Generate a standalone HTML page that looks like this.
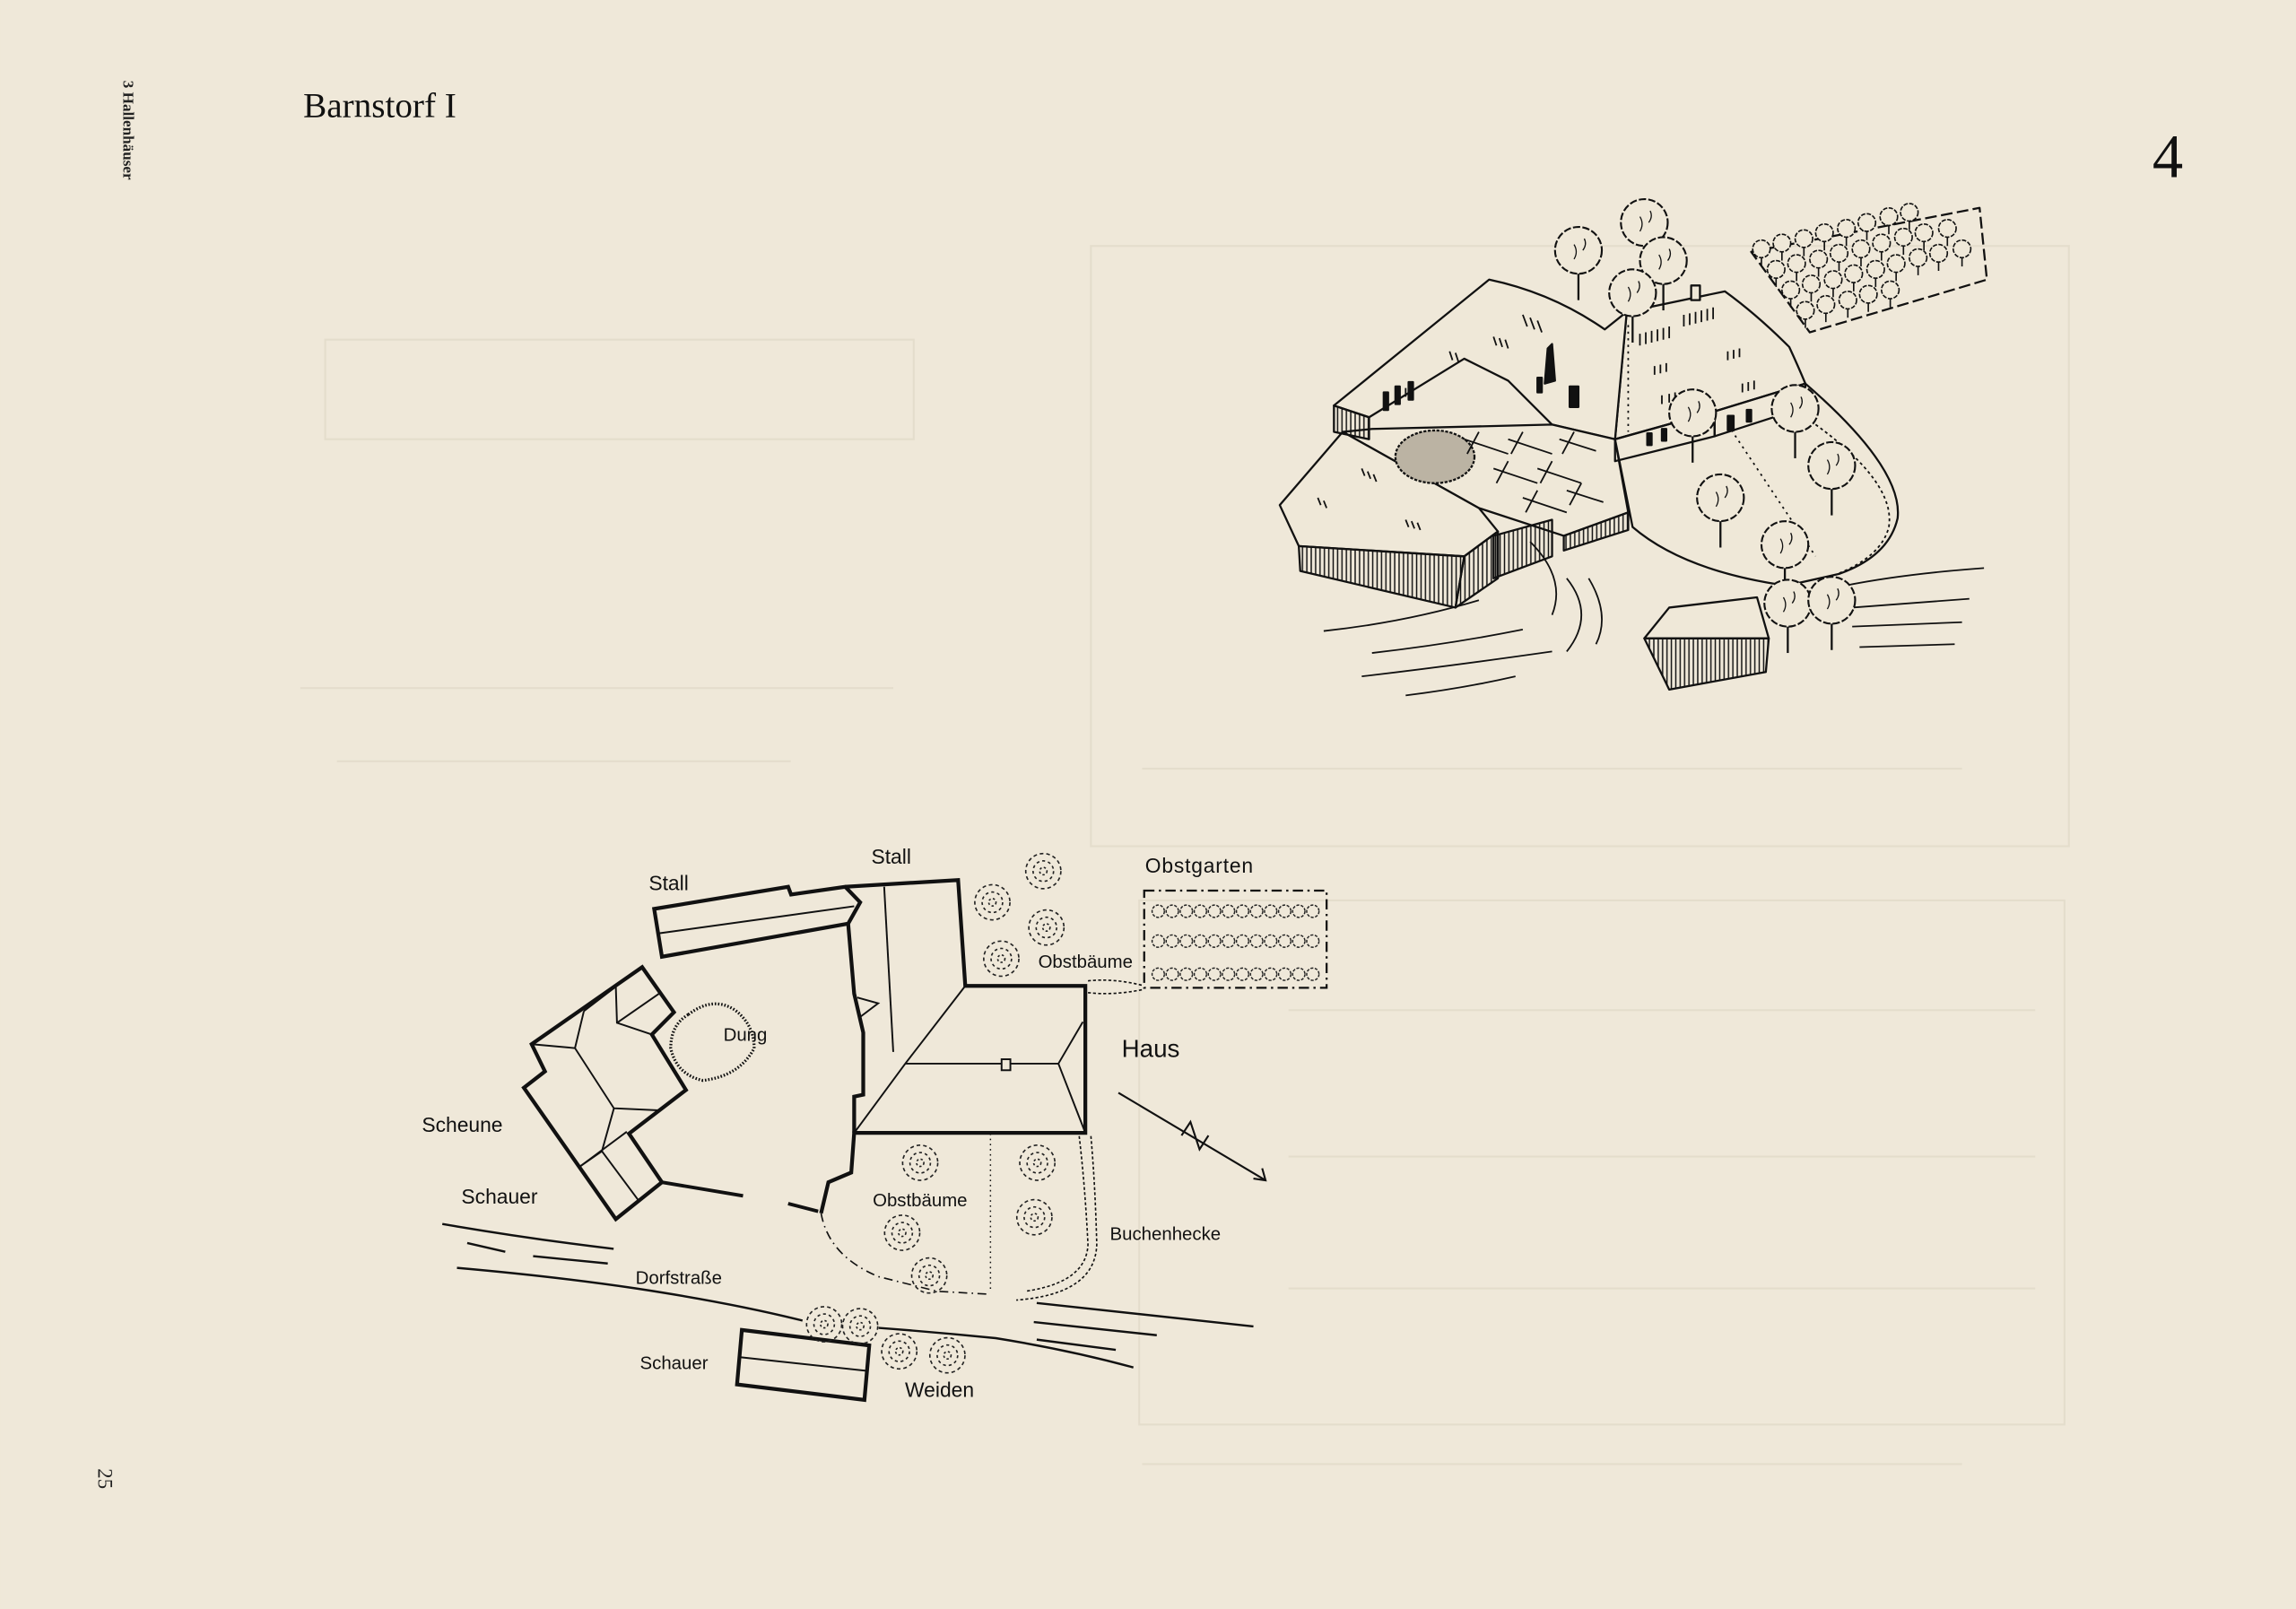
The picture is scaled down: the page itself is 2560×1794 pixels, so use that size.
<!DOCTYPE html>
<html><head><meta charset="utf-8"><style>
html,body{margin:0;padding:0;background:#efe8d8;}
svg{display:block}
</style></head><body>
<svg width="2560" height="1794" viewBox="0 0 1568 1099" xmlns="http://www.w3.org/2000/svg">
<defs>
<pattern id="h" width="3" height="10" patternUnits="userSpaceOnUse"><line x1="1.5" y1="0" x2="1.5" y2="10" stroke="#111" stroke-width="0.9"/></pattern>
<g id="t"><circle cx="0" cy="0" r="6" fill="#efe8d8" stroke="#111" stroke-width="1" stroke-dasharray="3 1"/><line x1="0" y1="6" x2="0" y2="12" stroke="#111" stroke-width="1"/></g>
<g id="T"><circle cx="0" cy="0" r="16" fill="#efe8d8" stroke="#111" stroke-width="1.3" stroke-dasharray="5 1.5"/><path d="M-3 -4 q3 5 0 10 M4 -8 q2 4 -1 8" stroke="#111" fill="none" stroke-width="0.8"/><line x1="0" y1="16" x2="0" y2="34" stroke="#111" stroke-width="1.4"/></g>
<g id="d"><circle cx="0" cy="0" r="12" fill="none" stroke="#222" stroke-width="1" stroke-dasharray="2.5 2"/><circle cx="0" cy="0" r="7" fill="none" stroke="#222" stroke-width="1" stroke-dasharray="2 2"/><circle cx="0" cy="0" r="2.5" fill="none" stroke="#222" stroke-width="1" stroke-dasharray="1.5 1.5"/></g>
<g id="o"><circle cx="0" cy="0" r="4.2" fill="none" stroke="#222" stroke-width="0.9" stroke-dasharray="2 1"/></g>
</defs>
<rect width="1568" height="1099" fill="#efe8d9"/>
<!-- faint show-through -->
<g stroke="#e4ddcc" stroke-width="1.3" fill="none">
<rect x="222" y="232" width="402" height="68"/>
<rect x="745" y="168" width="668" height="410"/>
<rect x="778" y="615" width="632" height="358"/>
<line x1="205" y1="470" x2="610" y2="470"/>
<line x1="880" y1="690" x2="1390" y2="690"/>
<line x1="880" y1="790" x2="1390" y2="790"/>
<line x1="880" y1="880" x2="1390" y2="880"/>
<line x1="230" y1="520" x2="540" y2="520"/>
<line x1="780" y1="525" x2="1340" y2="525"/>
<line x1="780" y1="1000" x2="1340" y2="1000"/>
</g>

<!-- header -->
<text x="207" y="80" font-family="Liberation Serif, serif" font-size="24" fill="#111">Barnstorf I</text>
<text x="1470" y="121" font-family="Liberation Serif, serif" font-size="42" fill="#111">4</text>
<text transform="translate(84,55) rotate(90)" font-family="Liberation Serif, serif" font-size="10.5" font-weight="bold" fill="#222">3 Hallenhäuser</text>
<text transform="translate(67,1003) rotate(90)" font-family="Liberation Serif, serif" font-size="14" fill="#222">25</text>

<!-- ===== PLAN ===== -->
<g stroke="#111" fill="none" stroke-linejoin="miter">
<polygon points="446.7,620.8 538.2,605.7 540.2,611 577.2,605.7 587.4,616.3 579.2,630.9 452,653.5" stroke-width="2.6"/>
<line x1="450" y1="637.5" x2="583.3" y2="619" stroke-width="1.2"/>
<polyline points="577.2,605.7 654.3,601.1 659.2,673.4 741.2,673.4 741.2,773.8 583.3,773.8 581.3,800.9 565.7,807.5 560.7,828.7" stroke-width="2.6"/>
<polyline points="579.2,630.9 583.3,678.7 589.5,705.3 589.5,747.7 583.3,749 583.3,773.8" stroke-width="2.6"/>
<polyline points="585.4,681.3 599.7,685.3 587.4,694.6" stroke-width="1.2"/>
<line x1="603.8" y1="605.7" x2="610" y2="718.5" stroke-width="1.2"/>
<line x1="618.2" y1="726.5" x2="722.8" y2="726.5" stroke-width="1.2"/>
<line x1="618.2" y1="726.5" x2="659.2" y2="673.4" stroke-width="1.2"/>
<line x1="618.2" y1="726.5" x2="583.3" y2="773.8" stroke-width="1.2"/>
<line x1="722.8" y1="726.5" x2="739.5" y2="698" stroke-width="1.2"/>
<line x1="722.8" y1="726.5" x2="741.2" y2="773.8" stroke-width="1.2"/>
<rect x="684" y="723.5" width="6" height="7.5" fill="#efe8d8" stroke-width="1.2"/>
<polygon points="438.5,660.6 460.2,691.4 445.1,706.6 468.4,744.5 429.5,774.3 452,807.5 420.5,832.7 357.7,743 372.1,731.8 363,713.2" stroke-width="2.6"/>
<polyline points="363,713.2 392.6,715.9 419.2,757 450,758.4" stroke-width="1.2"/>
<line x1="392.6" y1="715.9" x2="398.7" y2="690.6" stroke-width="1.2"/>
<line x1="398.7" y1="690.6" x2="420.5" y2="673.9" stroke-width="1.2"/>
<polyline points="420.5,673.9 421.3,698.6 445.1,706.6" stroke-width="1.2"/>
<line x1="421.3" y1="698.6" x2="450" y2="678.7" stroke-width="1.2"/>
<line x1="419.2" y1="757" x2="411" y2="786.3" stroke-width="1.2"/>
<line x1="411" y1="786.3" x2="395.8" y2="796.9" stroke-width="1.2"/>
<line x1="428" y1="773" x2="395.8" y2="796.9" stroke-width="1.2"/>
<line x1="411" y1="786.3" x2="435.6" y2="819.4" stroke-width="1.2"/>
<line x1="452" y1="807.5" x2="507.4" y2="816.8" stroke-width="2.4"/>
<line x1="538.2" y1="822.1" x2="558.7" y2="827.4" stroke-width="2.4"/>
<path d="M470 693 Q487 680 502 690 Q515 700 515 716 Q505 735 480 738 Q462 734 458 716 Q458 700 470 693 Z" stroke-width="2" stroke-dasharray="1 1.2"/>
<rect x="781.4" y="608.3" width="124.6" height="66.4" stroke-width="1.4" stroke-dasharray="7 3 1.5 3"/>
<path d="M743 670 Q760 668 780 673 M743 678 Q760 680 780 676" stroke-width="1" stroke-dasharray="2 1.5"/>
<path d="M737 776 Q741 810 743 850 Q742 876 700 882 M745 776 Q748 810 749 850 Q748 884 694 888" stroke-width="1" stroke-dasharray="2 1.5"/>
<line x1="676.4" y1="774.3" x2="676.4" y2="882" stroke-width="0.9" stroke-dasharray="1 2.5"/>
<path d="M560.7 828.7 Q566 858 600 872 L640 882 L676 884" stroke-width="1" stroke-dasharray="6 3 1 3"/>
<line x1="763.8" y1="746.4" x2="864.3" y2="806.2" stroke-width="1.3"/>
<polyline points="806.9,775.6 813,766.3 819.2,785 825.3,775.6" stroke-width="1.3"/>
<polyline points="856,805 864.3,806.2 862,798" stroke-width="1.3"/>
<path d="M302 836 Q360 846 419 853" stroke-width="1.5"/>
<path d="M319 849 L345 855 M364 858 L415 863" stroke-width="1.5"/>
<path d="M312 866 Q380 872 434 880 Q500 890 548 902" stroke-width="1.5"/>
<path d="M600 907 Q640 910 680 914 Q730 922 774 934" stroke-width="1.5"/>
<path d="M708 890 Q780 898 856 906" stroke-width="1.5"/>
<path d="M706 903 L790 912 M708 915 L762 922" stroke-width="1.5"/>
<polygon points="506.6,908.4 593.6,919 590.3,956.2 503.3,945.6" stroke-width="2.6"/>
<line x1="505.4" y1="927" x2="591.5" y2="936.3" stroke-width="1.2"/>
</g>
<use href="#d" x="712.5" y="595"/><use href="#d" x="677.7" y="616.3"/><use href="#d" x="714.6" y="633.5"/><use href="#d" x="683.8" y="654.8"/>
<use href="#d" x="628.4" y="794.2"/><use href="#d" x="708.4" y="794.2"/><use href="#d" x="616.1" y="842"/><use href="#d" x="706.4" y="831.4"/><use href="#d" x="634.6" y="871.2"/>
<use href="#d" x="562.8" y="904.5"/><use href="#d" x="587.4" y="905.8"/><use href="#d" x="614.1" y="923"/><use href="#d" x="647" y="925.7"/>
<g>
<use href="#o" x="791" y="622.4"/><use href="#o" x="800.6" y="622.4"/><use href="#o" x="810.2" y="622.4"/><use href="#o" x="819.8" y="622.4"/><use href="#o" x="829.4" y="622.4"/><use href="#o" x="839" y="622.4"/><use href="#o" x="848.6" y="622.4"/><use href="#o" x="858.2" y="622.4"/><use href="#o" x="867.8" y="622.4"/><use href="#o" x="877.4" y="622.4"/><use href="#o" x="887" y="622.4"/><use href="#o" x="896.6" y="622.4"/>
<use href="#o" x="791" y="642.8"/><use href="#o" x="800.6" y="642.8"/><use href="#o" x="810.2" y="642.8"/><use href="#o" x="819.8" y="642.8"/><use href="#o" x="829.4" y="642.8"/><use href="#o" x="839" y="642.8"/><use href="#o" x="848.6" y="642.8"/><use href="#o" x="858.2" y="642.8"/><use href="#o" x="867.8" y="642.8"/><use href="#o" x="877.4" y="642.8"/><use href="#o" x="887" y="642.8"/><use href="#o" x="896.6" y="642.8"/>
<use href="#o" x="791" y="665.4"/><use href="#o" x="800.6" y="665.4"/><use href="#o" x="810.2" y="665.4"/><use href="#o" x="819.8" y="665.4"/><use href="#o" x="829.4" y="665.4"/><use href="#o" x="839" y="665.4"/><use href="#o" x="848.6" y="665.4"/><use href="#o" x="858.2" y="665.4"/><use href="#o" x="867.8" y="665.4"/><use href="#o" x="877.4" y="665.4"/><use href="#o" x="887" y="665.4"/><use href="#o" x="896.6" y="665.4"/>
</g>
<g font-family="Liberation Sans, sans-serif" fill="#111" font-size="14">
<text x="443" y="608">Stall</text>
<text x="595" y="590">Stall</text>
<text x="782" y="596" letter-spacing="0.5">Obstgarten</text>
<text x="709" y="661" font-size="12.5">Obstbäume</text>
<text x="494" y="711" font-size="12.5">Dung</text>
<text x="766" y="722" font-size="17">Haus</text>
<text x="288" y="773">Scheune</text>
<text x="315" y="822">Schauer</text>
<text x="596" y="824" font-size="12.5">Obstbäume</text>
<text x="758" y="847" font-size="12.5">Buchenhecke</text>
<text x="434" y="877" font-size="12.5">Dorfstraße</text>
<text x="437" y="935" font-size="12.5">Schauer</text>
<text x="618" y="954">Weiden</text>
</g>

<!-- ===== BIRD'S EYE ===== -->
<g stroke="#111" stroke-width="1.4" fill="#efe8d8" stroke-linejoin="round">
<polygon points="1196,172 1352,142 1357,191 1236,227" fill="none" stroke-dasharray="8 3"/>
<path d="M1111 213 L1178 199 Q1200 215 1222 237 Q1228 250 1233 262 L1171 281 L1103 300 Z"/>
<path d="M911 277 L1017 191 Q1060 200 1096 225 L1111 213 L1103 300 L1060 290 L1030 260 L1000 245 L935 285 Z"/>
<path d="M937 293 L1060 290 L1103 300 L1112 350 L1068 366 L1010 347 L917 295 Z" fill="#efe8d8"/>
<path d="M1103 300 L1171 281 L1233 262 Q1300 320 1296 354 Q1290 380 1256 392 L1220 400 Q1150 390 1115 360 Z"/>
<polygon points="874,345 917,295 1010,347 1023,363 1000,380 887,373"/>
<polygon points="887,373 1000,380 994,415 888,390" fill="url(#h)"/>
<polygon points="1000,380 1023,363 1023,395 994,415" fill="url(#h)"/>
<polygon points="1020,366 1060,355 1060,380 1020,395" fill="url(#h)"/>
<polygon points="1068,366 1112,350 1112,362 1068,376" fill="url(#h)"/>
<polygon points="911,277 935,285 935,300 911,295" fill="url(#h)"/>
<polygon points="1103,300 1171,281 1171,298 1103,315" fill="none"/>
<polygon points="1171,281 1233,262 1233,278 1171,298" fill="none"/>
<rect x="1125" y="296" width="3" height="8" fill="#111"/><rect x="1135" y="293" width="3" height="8" fill="#111"/><rect x="1180" y="284" width="4" height="10" fill="#111"/><rect x="1193" y="280" width="3" height="8" fill="#111"/>
<rect x="945" y="268" width="3" height="12" fill="#111"/><rect x="953" y="264" width="3" height="12" fill="#111"/><rect x="962" y="261" width="3" height="12" fill="#111"/><rect x="1050" y="258" width="3" height="10" fill="#111"/><rect x="1072" y="264" width="6" height="14" fill="#111"/>
<polygon points="1057,238 1060,235 1062,260 1055,262" fill="#111"/>
<rect x="1155" y="195" width="6" height="10" fill="#efe8d8"/>
<ellipse cx="980" cy="312" rx="27" ry="18" fill="#bbb3a3" stroke-dasharray="2 1"/>
<polygon points="1123,436 1140,415 1200,408 1208,436"/>
<polygon points="1123,436 1208,436 1206,459 1140,471" fill="url(#h)"/>
</g>
<g stroke="#111" stroke-width="1.1" fill="none">
<path d="M1000 300 l30 10 M1010 295 l-8 15 M1030 300 l30 10 M1040 295 l-8 15 M1020 320 l30 10 M1030 315 l-8 15 M1050 320 l30 10 M1060 315 l-8 15 M1040 340 l30 10 M1050 335 l-8 15 M1070 335 l25 8 M1080 330 l-8 15 M1065 300 l25 8 M1075 295 l-8 15"/>
<path d="M1120 228 l0 8 M1124 227 l0 8 M1128 226 l0 8 M1132 225 l0 8 M1136 224 l0 8 M1140 223 l0 8 M1130 250 l0 6 M1134 249 l0 6 M1138 248 l0 6 M1135 270 l0 6 M1140 269 l0 6 M1144 268 l0 6 M1040 215 l3 8 M1045 217 l3 8 M1050 219 l3 8 M960 265 l0 6 M965 262 l0 6"/>
<path d="M1150 215 l0 8 M1154 214 l0 8 M1158 213 l0 8 M1162 212 l0 8 M1166 211 l0 8 M1170 210 l0 8 M1180 240 l0 6 M1184 239 l0 6 M1188 238 l0 6 M1190 262 l0 6 M1194 261 l0 6 M1198 260 l0 6 M1020 230 l2 6 M1024 231 l2 6 M1028 232 l2 6 M990 240 l2 6 M994 241 l2 6 M930 320 l2 5 M934 322 l2 5 M938 324 l2 5 M900 340 l2 5 M904 342 l2 5 M960 355 l2 5 M964 356 l2 5 M968 357 l2 5"/>
<path d="M1112 222 L1112 295" stroke-dasharray="1.5 3"/>
<path d="M1180 290 L1240 380" stroke-dasharray="1.5 3"/>
<path d="M1240 290 Q1295 330 1290 360 Q1285 380 1255 392" stroke-dasharray="2 2"/>
<path d="M904 431 Q960 425 1010 410 M930 462 Q990 455 1060 445 M937 446 Q990 440 1040 430 M960 475 Q1000 470 1035 462 M1070 395 Q1090 420 1070 445 M1085 395 Q1100 420 1090 440 M1045 370 Q1070 395 1060 420 M1260 400 Q1300 392 1355 388 M1265 415 L1345 409 M1265 428 L1340 425 M1270 442 L1335 440"/>
</g>
<use href="#T" x="1078" y="171"/><use href="#T" x="1123" y="152"/><use href="#T" x="1136" y="178"/><use href="#T" x="1115" y="200"/>
<use href="#T" x="1156" y="282"/><use href="#T" x="1175" y="340"/><use href="#T" x="1226" y="279"/><use href="#T" x="1251" y="318"/><use href="#T" x="1219" y="372"/><use href="#T" x="1221" y="412"/><use href="#T" x="1251" y="410"/>
<g>
<use href="#t" x="1203" y="170"/><use href="#t" x="1217" y="166"/><use href="#t" x="1232" y="163"/><use href="#t" x="1246" y="159"/><use href="#t" x="1261" y="156"/><use href="#t" x="1275" y="152"/><use href="#t" x="1290" y="148"/><use href="#t" x="1304" y="145"/>
<use href="#t" x="1213" y="184"/><use href="#t" x="1227" y="180"/><use href="#t" x="1242" y="177"/><use href="#t" x="1256" y="173"/><use href="#t" x="1271" y="170"/><use href="#t" x="1285" y="166"/><use href="#t" x="1300" y="162"/><use href="#t" x="1314" y="159"/><use href="#t" x="1330" y="156"/>
<use href="#t" x="1223" y="198"/><use href="#t" x="1237" y="194"/><use href="#t" x="1252" y="191"/><use href="#t" x="1266" y="187"/><use href="#t" x="1281" y="184"/><use href="#t" x="1295" y="180"/><use href="#t" x="1310" y="176"/><use href="#t" x="1324" y="173"/><use href="#t" x="1340" y="170"/>
<use href="#t" x="1233" y="212"/><use href="#t" x="1247" y="208"/><use href="#t" x="1262" y="205"/><use href="#t" x="1276" y="201"/><use href="#t" x="1291" y="198"/>
</g>
</svg>
</body></html>
